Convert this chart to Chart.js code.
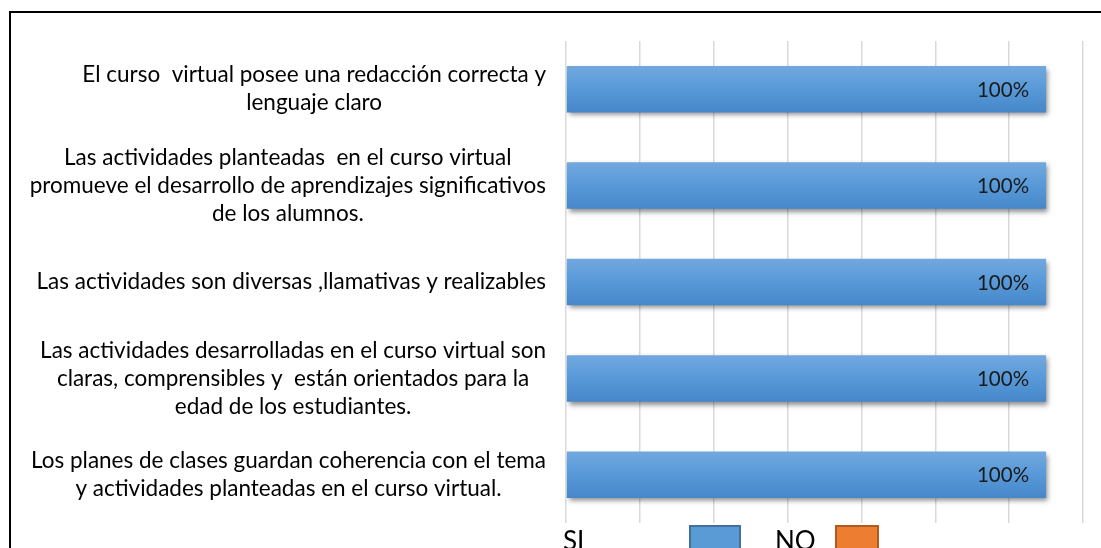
<!DOCTYPE html>
<html><head><meta charset="utf-8">
<script src="https://cdn.jsdelivr.net/npm/chart.js@4"></script>
<style>html,body{margin:0;padding:0;background:#fff;overflow:hidden}#wrap{width:1101px;height:548px;position:relative}</style>
</head><body><div id="wrap"><canvas id="c" width="1101" height="548"></canvas></div>
<script>
const categories = [
  ["El curso  virtual posee una redacción correcta y", "lenguaje claro"],
  ["Las actividades planteadas  en el curso virtual", "promueve el desarrollo de aprendizajes significativos", "de los alumnos."],
  ["Las actividades son diversas ,llamativas y realizables"],
  ["Las actividades desarrolladas en el curso virtual son", "claras, comprensibles y  están orientados para la", "edad de los estudiantes."],
  ["Los planes de clases guardan coherencia con el tema", "y actividades planteadas en el curso virtual."]
];
const seriesNames = ["SI", "NO"];
const siValues = [13, 13, 13, 13, 13];
const noValues = [0, 0, 0, 0, 0];
const xMin = 0, xMax = 14, xStep = 2;

const FONT = "Lato";
const BAR_PCT = 0.482;
const colors = ["#5b9bd5", "#ed7d31"];
const borderColors = ["#41719c", "#ae5a21"];

function barGradient(ctx) {
  const chart = ctx.chart;
  const ys = chart.scales && chart.scales.y;
  if (!ys || !chart.chartArea || ctx.dataIndex === undefined) return colors[0];
  const c = ys.getPixelForValue(ctx.dataIndex);
  const h = (ys.height / categories.length) * BAR_PCT;
  const g = chart.ctx.createLinearGradient(0, c - h / 2, 0, c + h / 2);
  g.addColorStop(0, "#72a8de");
  g.addColorStop(0.5, "#5799d8");
  g.addColorStop(1, "#4587c8");
  return g;
}

const decor = {
  id: "decor",
  beforeDraw(chart) {
    const ctx = chart.ctx;
    ctx.save();
    ctx.strokeStyle = "#000";
    ctx.lineWidth = 2;
    ctx.strokeRect(10, 12, 1200, 600);
    ctx.restore();
  },
  beforeDatasetsDraw(chart) {
    const ctx = chart.ctx;
    ctx.save();
    ctx.shadowColor = "rgba(0,0,0,0.45)";
    ctx.shadowBlur = 5;
    ctx.shadowOffsetX = 2;
    ctx.shadowOffsetY = 3;
  },
  afterDatasetsDraw(chart) {
    const ctx = chart.ctx;
    ctx.restore();
    // data labels
    const meta = chart.getDatasetMeta(0);
    ctx.save();
    ctx.font = "20.5px " + FONT;
    ctx.fillStyle = "#1a1a1a";
    ctx.textAlign = "right";
    ctx.textBaseline = "middle";
    meta.data.forEach((bar, i) => {
      const tot = siValues[i] + noValues[i];
      const pct = Math.round(siValues[i] / tot * 100) + "%";
      ctx.fillText(pct, bar.x - 17, bar.y + 1);
    });
    ctx.restore();
    // category labels (block right-aligned, lines centred)
    const ys = chart.scales.y;
    const area = chart.chartArea;
    ctx.save();
    ctx.font = "22.5px " + FONT;
    ctx.fillStyle = "#000";
    ctx.textAlign = "center";
    ctx.textBaseline = "middle";
    const lh = 28;
    categories.forEach((lines, i) => {
      const c = ys.getPixelForValue(i);
      let w = 0;
      lines.forEach(l => { w = Math.max(w, ctx.measureText(l).width); });
      const cx = area.left - 20 - w / 2;
      lines.forEach((l, j) => {
        ctx.fillText(l, cx, c + (j - (lines.length - 1) / 2) * lh);
      });
    });
    ctx.restore();
    // legend (text then box)
    ctx.save();
    ctx.font = "26px " + FONT;
    ctx.fillStyle = "#000";
    ctx.textBaseline = "alphabetic";
    ctx.textAlign = "left";
    const L = area.left;
    const items = [
      {t: chart.data.datasets[0].label, tx: L - 3, bx: L + 124, bw: 50, i: 0},
      {t: chart.data.datasets[1].label, tx: L + 209, bx: L + 270, bw: 42, i: 1}
    ];
    items.forEach(it => {
      ctx.fillText(it.t, it.tx, 550);
      ctx.fillStyle = colors[it.i];
      ctx.fillRect(it.bx, 526, it.bw, 30);
      ctx.strokeStyle = borderColors[it.i];
      ctx.lineWidth = 2;
      ctx.strokeRect(it.bx, 526, it.bw, 30);
      ctx.fillStyle = "#000";
    });
    ctx.restore();
  }
};

new Chart(document.getElementById("c"), {
  type: "bar",
  data: {
    labels: categories,
    datasets: [
      {label: seriesNames[0], data: siValues, backgroundColor: barGradient, borderWidth: 0,
       barPercentage: BAR_PCT, categoryPercentage: 1},
      {label: seriesNames[1], data: noValues, backgroundColor: colors[1], borderWidth: 0,
       barPercentage: BAR_PCT, categoryPercentage: 1}
    ]
  },
  options: {
    indexAxis: "y",
    responsive: false,
    animation: false,
    devicePixelRatio: 1,
    layout: {padding: {left: 0, right: 18, top: 41, bottom: 25}},
    plugins: {legend: {display: false}, tooltip: {enabled: false}},
    scales: {
      x: {
        stacked: true, min: xMin, max: xMax,
        ticks: {stepSize: xStep, display: false},
        grid: {color: "#d9d9d9", lineWidth: 1.5, drawTicks: false},
        border: {display: false}
      },
      y: {
        stacked: true,
        ticks: {display: false},
        grid: {display: false},
        border: {display: false},
        afterFit(s) { s.width = 566; }
      }
    }
  },
  plugins: [decor]
});
</script>
</body></html>
